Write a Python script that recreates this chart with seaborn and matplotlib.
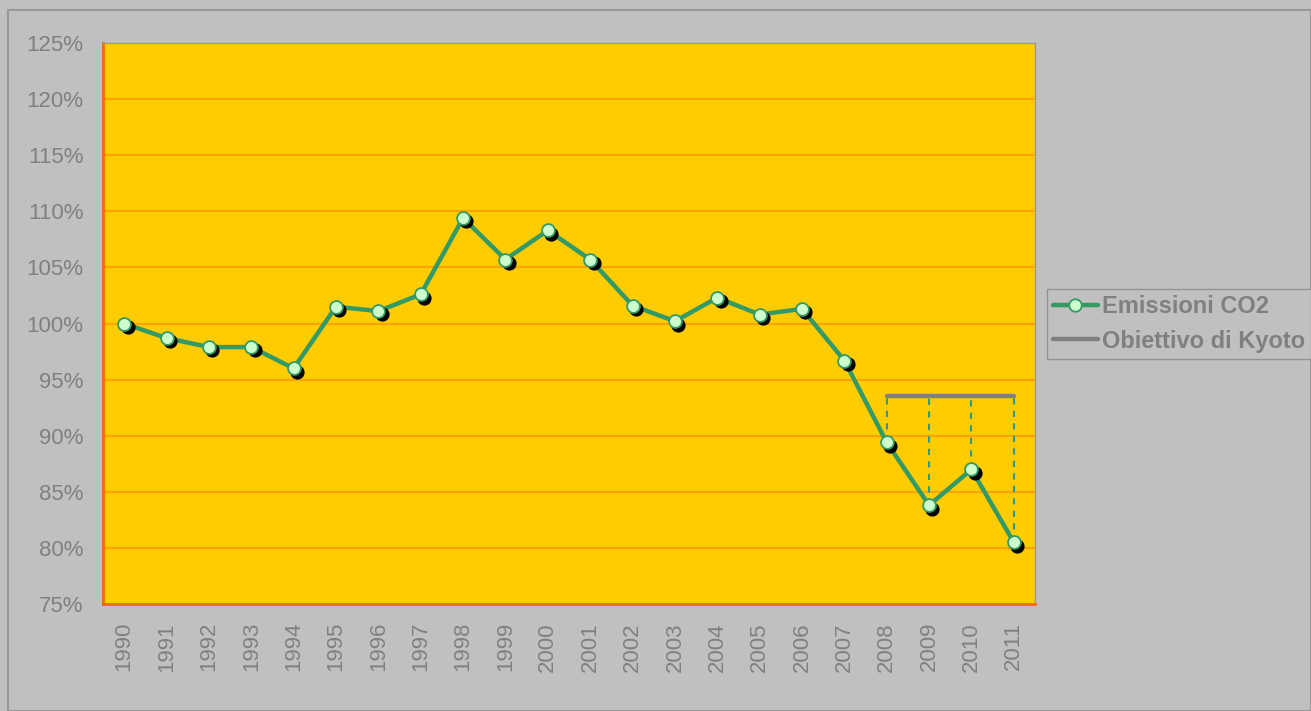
import pandas as pd
import matplotlib.pyplot as plt
import matplotlib.patches as mpatches
import matplotlib.transforms as mtransforms
from matplotlib.lines import Line2D
import seaborn as sns

# dati
anni = [str(a) for a in range(1990, 2012)]
emissioni = [100.0, 98.7, 97.9, 97.9, 96.0, 101.5, 101.1, 102.6, 109.4, 105.7, 108.3,
             105.7, 101.6, 100.2, 102.3, 100.8, 101.3, 96.7, 89.4, 83.8, 87.0, 80.5]
anni_kyoto = ['2008', '2009', '2010', '2011']
kyoto = [93.5, 93.5, 93.5, 93.5]
y_ticks = [75, 80, 85, 90, 95, 100, 105, 110, 115, 120, 125]

df = pd.DataFrame({'anno': anni, 'pos': range(len(anni)), 'val': emissioni})
df_k = df[df['anno'].isin(anni_kyoto)].copy()
df_k['kyoto'] = kyoto

sns.set_theme(style="white")
plt.rcParams['font.family'] = ['Liberation Sans', 'DejaVu Sans']

GRIGIO = '#c0c0c0'
TESTO = '#808080'
ARANCIO = '#ff9900'
VERDE = '#339966'

fig = plt.figure(figsize=(13.11, 7.11), dpi=100, facecolor=GRIGIO)
fig.patches.append(mpatches.Rectangle((8 / 1311, 0), 1 - 8 / 1311, 1 - 10 / 711,
                                      transform=fig.transFigure, fill=False,
                                      edgecolor='#999999', lw=1.5))
ax = fig.add_axes([103 / 1311, 1 - 604 / 711, 932 / 1311, 561 / 711])
ax.set_facecolor('#ffcc00')

# griglia
for v in y_ticks[1:]:
    ax.axhline(v, color=ARANCIO, lw=1.2, zorder=1)

# linee verticali tratteggiate
ax.vlines(df_k['pos'], df_k['val'], df_k['kyoto'], colors='#2e9a86',
          linestyles=(0, (3, 3)), lw=1.5, zorder=2)

# obiettivo di Kyoto
sns.lineplot(data=df_k, x='pos', y='kyoto', ax=ax, color='#808080', lw=3.2,
             solid_capstyle='round', zorder=3)

# emissioni
sns.lineplot(data=df, x='pos', y='val', ax=ax, color=VERDE, lw=3.2, zorder=4)
ombra = ax.transData + mtransforms.ScaledTranslation(2.4 / 72, -2.4 / 72, fig.dpi_scale_trans)
ax.scatter(df['pos'], df['val'], s=85, color='black', transform=ombra, zorder=5)
sns.scatterplot(data=df, x='pos', y='val', ax=ax, s=85, color='#ccffcc',
                edgecolor=VERDE, linewidth=1.3, zorder=6)

ax.set_xlim(-0.5, len(anni) - 0.5)
ax.set_ylim(75, 125)
ax.set_yticks(y_ticks)
ax.set_yticklabels([f'{v}%' for v in y_ticks], fontsize=16, color=TESTO)
ax.set_xticks(range(len(anni)))
ax.set_xticklabels(anni, rotation=90, fontsize=16, color=TESTO)
ax.set_xticks([i - 0.5 for i in range(len(anni) + 1)], minor=True)
ax.tick_params(axis='x', which='major', length=0, pad=13)
ax.tick_params(axis='x', which='minor', length=5, width=1.5, color='#ff6600', direction='out')
ax.tick_params(axis='y', length=5, width=1.5, color='#ff6600', direction='out', pad=9)
ax.set_xlabel('')
ax.set_ylabel('')
for s in ['top', 'right']:
    ax.spines[s].set_color('#999999')
    ax.spines[s].set_linewidth(1)
for s in ['left', 'bottom']:
    ax.spines[s].set_color('#ff6600')
    ax.spines[s].set_linewidth(2)

handles = [
    Line2D([], [], color=VERDE, lw=3.2, marker='o', markersize=9,
           markerfacecolor='#ccffcc', markeredgecolor=VERDE, markeredgewidth=1.3),
    Line2D([], [], color='#808080', lw=3.2),
]
leg = fig.legend(handles, ['Emissioni CO2', 'Obiettivo di Kyoto'],
                 loc='upper left', bbox_to_anchor=(1047 / 1311, 1 - 289 / 711),
                 frameon=True, fancybox=False, facecolor=GRIGIO, edgecolor='#888888',
                 prop={'weight': 'bold', 'size': 17}, labelcolor=TESTO,
                 handlelength=1.9, handletextpad=0.2, borderpad=0.25, labelspacing=0.5,
                 borderaxespad=0)

fig.savefig('out.png', dpi=100, facecolor=GRIGIO)
